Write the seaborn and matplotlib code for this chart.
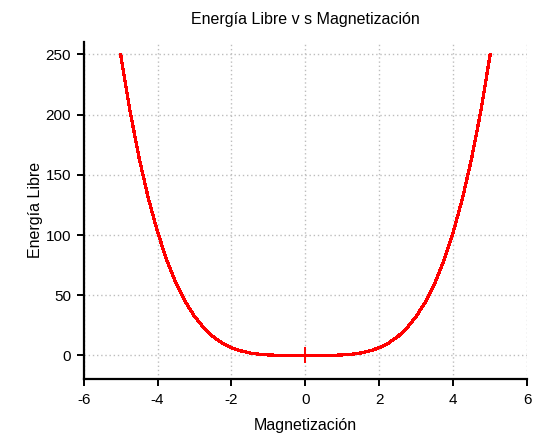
import matplotlib
matplotlib.use("Agg")
import matplotlib.pyplot as plt
import seaborn as sns
import pandas as pd

# Values
magnetizacion = [-5.0, -4.75, -4.5, -4.25, -4.0, -3.75, -3.5, -3.25, -3.0, -2.75,
                 -2.5, -2.25, -2.0, -1.75, -1.5, -1.25, -1.0, -0.75, -0.5, -0.25,
                 0.0, 0.25, 0.5, 0.75, 1.0, 1.25, 1.5, 1.75, 2.0, 2.25,
                 2.5, 2.75, 3.0, 3.25, 3.5, 3.75, 4.0, 4.25, 4.5, 4.75, 5.0]
energia = [250.0, 203.6, 164.0, 130.5, 102.4, 79.1, 60.0, 44.6, 32.4, 22.9,
           15.6, 10.3, 6.4, 3.8, 2.0, 1.0, 0.4, 0.1, 0.0, 0.0,
           0.0, 0.0, 0.0, 0.1, 0.4, 1.0, 2.0, 3.8, 6.4, 10.3,
           15.6, 22.9, 32.4, 44.6, 60.0, 79.1, 102.4, 130.5, 164.0, 203.6, 250.0]
punto_m = [0.0]
punto_e = [0.0]
xticks = [-6, -4, -2, 0, 2, 4, 6]
yticks = [0, 50, 100, 150, 200, 250]

sns.set_theme(style="white")
plt.rcParams['font.family'] = ['Liberation Sans', 'DejaVu Sans']

df = pd.DataFrame({"m": magnetizacion, "F": energia})
fig = plt.figure(figsize=(5.33, 4.36), dpi=100)
ax = fig.add_axes([0.157, 0.131, 0.832, 0.773])

sns.lineplot(data=df, x="m", y="F", ax=ax, color="red", linewidth=1.6,
             sort=False, estimator=None, antialiased=False)
ax.plot(punto_m, punto_e, marker="+", color="red", markersize=12, mew=1.4,
        linestyle="none")

ax.set_xlim(-6, 6)
ax.set_ylim(-19.5, 260.5)
ax.set_xticks(xticks)
ax.set_yticks(yticks)
ax.set_xticklabels([str(t) for t in xticks])
ax.set_yticklabels([str(t) for t in yticks])

ax.grid(True, color="#bdbdbd", linestyle=(0, (1, 2)), linewidth=1.0)
for s in ["top", "right"]:
    ax.spines[s].set_visible(False)
for s in ["left", "bottom"]:
    ax.spines[s].set_color("black")
    ax.spines[s].set_linewidth(1.6)

ax.tick_params(axis="both", which="major", direction="out", length=5, width=1.4,
               color="black", labelsize=11, labelcolor="black", pad=4,
               left=True, bottom=True)
ax.tick_params(axis="x", pad=5)

ax.set_title("Energía Libre v s Magnetización", fontsize=11.5, pad=13, color="black")
ax.set_xlabel("Magnetización", fontsize=11.5, color="black", labelpad=8)
ax.set_ylabel("Energía Libre", fontsize=11.5, color="black", labelpad=2)

fig.savefig("out.png", dpi=100)
